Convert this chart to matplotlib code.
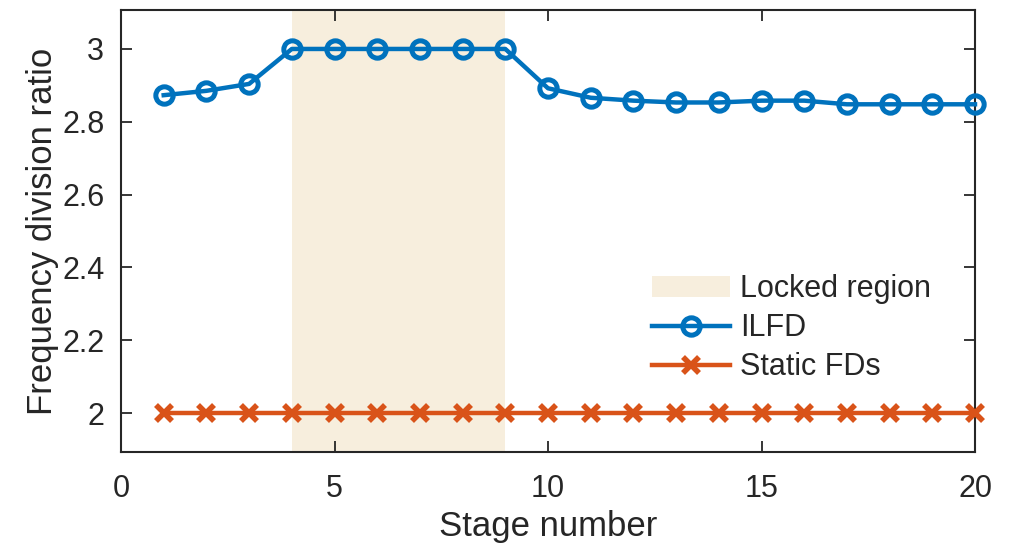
import matplotlib
matplotlib.use("Agg")
import matplotlib.pyplot as plt
import numpy as np

stages = list(range(1, 21))
ilfd = [2.873, 2.885, 2.904, 3.0, 3.0, 3.0, 3.0, 3.0, 3.0, 2.892,
        2.866, 2.858, 2.853, 2.853, 2.858, 2.858, 2.848, 2.848, 2.848, 2.848]
static_fd = [2.0] * 20
locked_start, locked_end = 4, 9

plt.rcParams['font.family'] = ['Liberation Sans', 'DejaVu Sans']

fig = plt.figure(figsize=(10.18, 5.44), dpi=100)
ax = fig.add_axes([121/1018, 1 - 452/544, (975-121)/1018, (452-10)/544])

ax.axvspan(locked_start, locked_end, color='#F7EEDD', lw=0, label='Locked region', zorder=0)
ax.plot(stages, ilfd, '-o', color='#0072BD', lw=3.2, ms=12.5, mew=3.6,
        mfc='none', label='ILFD', zorder=3, clip_on=False)
ax.plot(stages, static_fd, '-x', color='#D95319', lw=3.2, ms=12, mew=4,
        label='Static FDs', zorder=3, clip_on=False)

ax.set_xlim(0, 20)
ax.set_ylim(1.893, 3.107)
ax.set_xticks([0, 5, 10, 15, 20])
ax.set_yticks([2, 2.2, 2.4, 2.6, 2.8, 3])
ax.set_yticklabels(['2', '2.2', '2.4', '2.6', '2.8', '3'])
ax.tick_params(direction='in', length=8, width=1.3, top=True, right=True,
               labelsize=22, colors='#262626')
ax.tick_params(axis='x', pad=16)
ax.tick_params(axis='y', pad=12)
for s in ax.spines.values():
    s.set_linewidth(1.5)
    s.set_color('#262626')
ax.set_xlabel('Stage number', fontsize=25, color='#262626', labelpad=4)
ax.set_ylabel('Frequency division ratio', fontsize=25, color='#262626', labelpad=2)

leg = ax.legend(loc='upper left', bbox_to_anchor=(0.607, 0.43), frameon=False,
                fontsize=22, handlelength=2.55, handletextpad=0.35,
                labelspacing=0.3, borderaxespad=0)
for t in leg.get_texts():
    t.set_color('#262626')

fig.savefig('out.png', dpi=100)
